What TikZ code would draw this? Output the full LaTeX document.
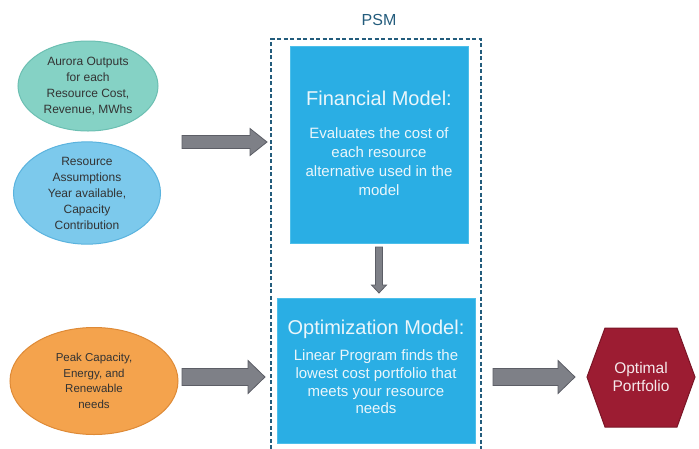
\documentclass[tikz,border=0pt]{standalone}
\usepackage{fontspec}
\setmainfont{Liberation Sans}
\usetikzlibrary{shapes.geometric,calc}
\definecolor{tealfill}{HTML}{85D2C5}
\definecolor{tealdraw}{HTML}{6CBFB2}
\definecolor{bluefill}{HTML}{7CC9EC}
\definecolor{bluedraw}{HTML}{5AB3DE}
\definecolor{orangefill}{HTML}{F4A34D}
\definecolor{orangedraw}{HTML}{DE8A36}
\definecolor{boxfill}{HTML}{2AAEE4}
\definecolor{boxdraw}{HTML}{4DBFEA}
\definecolor{hexfill}{HTML}{9C1C32}
\definecolor{hexdraw}{HTML}{7A1526}
\definecolor{arrfill}{HTML}{7E8087}
\definecolor{arrdraw}{HTML}{5C5E66}
\definecolor{psmcol}{HTML}{235C7C}
\definecolor{boxtext}{HTML}{EAF6FB}
\definecolor{darktext}{HTML}{333333}
\newcommand\blkarrowH[5]{%
  \draw[blockarr] ($(#1)+(0,#3)$) -- ($(#2)+(-#5,#3)$) -- ($(#2)+(-#5,#4)$) -- (#2)
    -- ($(#2)+(-#5,-#4)$) -- ($(#2)+(-#5,-#3)$) -- ($(#1)+(0,-#3)$) -- cycle;}
\newcommand\blkarrowV[5]{%
  \draw[blockarr] ($(#1)+(#3,0)$) -- ($(#2)+(#3,-#5)$) -- ($(#2)+(#4,-#5)$) -- (#2)
    -- ($(#2)+(-#4,-#5)$) -- ($(#2)+(-#3,-#5)$) -- ($(#1)+(-#3,0)$) -- cycle;}
\begin{document}
\begin{tikzpicture}[x=1pt,y=-1pt,
  ell/.style={ellipse, line width=1pt, inner sep=0pt, align=center, text=darktext},
  bluebox/.style={rectangle, fill=boxfill, draw=boxdraw, line width=1pt, inner sep=0pt},
  titletext/.style={text=boxtext, font=\fontsize{20}{24}\selectfont, inner sep=0pt},
  bodytext/.style={text=boxtext, align=center, inner sep=0pt},
  blockarr/.style={fill=arrfill, draw=arrdraw, line width=0.8pt, line join=miter},
]
\useasboundingbox (0,0) rectangle (699,448);

% ellipses
\node[ell, fill=tealfill, draw=tealdraw, minimum width=140, minimum height=90,
  font=\fontsize{12}{16}\selectfont] (aur) at (88,86)
  {Aurora Outputs\\for each\\Resource Cost,\\Revenue, MWhs};
\node[ell, fill=bluefill, draw=bluedraw, minimum width=147, minimum height=97,
  font=\fontsize{12}{16}\selectfont] (res) at (87,193)
  {Resource\\Assumptions\\Year available,\\Capacity\\Contribution};
\node[ell, fill=orangefill, draw=orangedraw, minimum width=168, minimum height=107,
  font=\fontsize{11.5}{15.5}\selectfont] (peak) at (94,381)
  {Peak Capacity,\\Energy, and\\Renewable\\needs};

% PSM frame
\node[text=psmcol, font=\fontsize{16}{19}\selectfont, inner sep=0pt] (psm) at (379,20) {PSM};
\coordinate (psmbl) at (271,449);
\coordinate (psmtl) at (271,39);
\coordinate (psmtr) at (481,39);
\coordinate (psmbr) at (481,449);
\draw[psmcol, line width=1.6pt, dash pattern=on 4pt off 2.5pt]
  (psmbl) -- (psmtl) -- (psmtr) -- (psmbr);

% financial model
\node[bluebox, minimum width=178, minimum height=197] (fin) at (379,144.5) {};
\node[titletext] (fint) at (379,98) {Financial Model:};
\node[bodytext, font=\fontsize{15}{19}\selectfont] (finb) at (379,162)
  {Evaluates the cost of\\each resource\\alternative used in the\\model};

% optimization model
\node[bluebox, minimum width=198, minimum height=145] (opt) at (376,370.5) {};
\node[titletext] (optt) at (376,329) {Optimization Model:};
\node[bodytext, font=\fontsize{15}{17.7}\selectfont] (optb) at (376,382)
  {Linear Program finds the\\lowest cost portfolio that\\meets your resource\\needs};

% hexagon
\coordinate (h1) at (587,377);
\coordinate (h2) at (605,328);
\coordinate (h3) at (677,328);
\coordinate (h4) at (695,377);
\coordinate (h5) at (677,427);
\coordinate (h6) at (605,427);
\filldraw[fill=hexfill, draw=hexdraw, line width=1pt] (h1) -- (h2) -- (h3) -- (h4) -- (h5) -- (h6) -- cycle;
\node[text=white!90!hexfill, align=center, font=\fontsize{15.5}{18}\selectfont, inner sep=0pt] (hex) at (641,377)
  {Optimal\\Portfolio};

% block arrows
\coordinate (a1s) at (182,142);
\coordinate (a1e) at (267,142);
\blkarrowH{a1s}{a1e}{6.5}{13.5}{17}
\coordinate (a3s) at (182,377);
\coordinate (a3e) at (265,377);
\blkarrowH{a3s}{a3e}{8.5}{16.5}{17}
\coordinate (a4s) at (493,377);
\coordinate (a4e) at (575,377);
\blkarrowH{a4s}{a4e}{8.5}{16.5}{17}
\coordinate (a2s) at (fin.south -| 379,0);
\coordinate (a2s) at (379,247);
\coordinate (a2e) at (379,293);
\blkarrowV{a2s}{a2e}{3.5}{7.5}{8}
\end{tikzpicture}
\end{document}
